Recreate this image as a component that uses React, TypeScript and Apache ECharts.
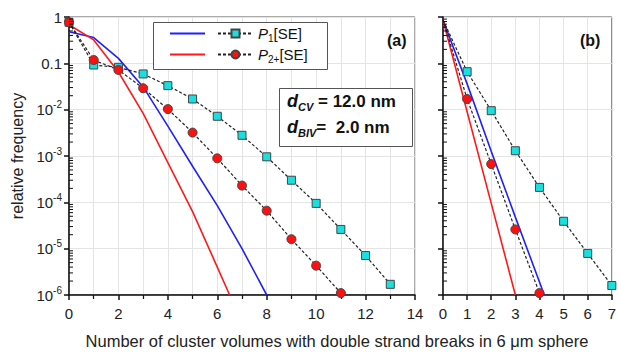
import React, { useEffect, useRef } from "react";
import * as echarts from "echarts";

// ---- data ----
// Panel (a)
const p1SE_a_x = [0, 1, 2, 3, 4, 5, 6, 7, 8, 9, 10, 11, 12, 13];
const p1SE_a_y = [0.77, 0.092, 0.082, 0.059, 0.033, 0.017, 0.0072, 0.0028, 0.00096, 0.0003, 0.000095, 0.000026, 0.0000071, 0.0000017];
const p2SE_a_x = [0, 1, 2, 3, 4, 5, 6, 7, 8, 9, 10, 11];
const p2SE_a_y = [0.77, 0.118, 0.072, 0.029, 0.0103, 0.0032, 0.00089, 0.00023, 0.000066, 0.000016, 0.0000043, 0.0000011];
const p1Line_a_x = [0, 1, 2, 3, 4, 5, 6, 7, 8];
const p1Line_a_y = [0.48, 0.36, 0.128, 0.031, 0.0044, 0.0006, 0.000085, 0.00001, 0.000001];
const p2Line_a_x = [0, 1, 2, 3, 4, 5, 6, 6.5];
const p2Line_a_y = [0.68, 0.32, 0.065, 0.0083, 0.00072, 0.000063, 0.000004, 0.000001];
// Panel (b)
const p1SE_b_x = [0, 1, 2, 3, 4, 5, 6, 7];
const p1SE_b_y = [0.86, 0.066, 0.0095, 0.0013, 0.00021, 0.000039, 0.0000079, 0.0000016];
const p2SE_b_x = [0, 1, 2, 3, 4];
const p2SE_b_y = [0.86, 0.017, 0.00067, 0.000026, 0.0000011];
const p1Line_b_x = [0, 1, 2, 3, 4, 4.2];
const p1Line_b_y = [0.86, 0.036, 0.00126, 0.000048, 0.0000019, 0.000001];
const p2Line_b_x = [0, 1, 2, 3];
const p2Line_b_y = [0.86, 0.009, 0.000095, 0.000001];

const xTicksA = { min: 0, max: 14, interval: 2 };
const xTicksB = { min: 0, max: 7, interval: 1 };
const yRange = { min: 1e-6, max: 1 };

const xTitle = "Number of cluster volumes with double strand breaks in 6 \u03bcm sphere";
const yTitle = "relative frequency";

const FONT = "Liberation Sans, Arial, Helvetica, sans-serif";

function zip(xs: number[], ys: number[]) {
  return xs.map((x, i) => [x, ys[i]]);
}

// minor log tick positions (2..9 × 10^k)
const minorY: number[] = [];
for (let k = -6; k < 0; k++) for (let m = 2; m <= 9; m++) minorY.push(m * Math.pow(10, k));

const BLUE = "#1f1fff";
const RED = "#ff1a1a";

export default function App() {
  const ref = useRef<HTMLDivElement>(null);
  useEffect(() => {
    if (!ref.current) return;
    const chart = echarts.init(ref.current, null, { renderer: "svg" });
    const gridA = { left: 69, top: 17, width: 346, height: 278 };
    const gridB = { left: 443, top: 17, width: 172, height: 278 };

    const yLabelFmt = (v: number) => {
      if (v >= 0.99) return "{b|1}";
      if (Math.abs(v - 0.1) < 1e-6) return "{b|0.1}";
      const e = Math.round(Math.log10(v));
      return `{b|10}{sup|${e}}`;
    };
    const richY = {
      b: { fontSize: 15, fontFamily: FONT, color: "#222", lineHeight: 20, verticalAlign: "middle" },
      sup: { fontSize: 10, fontFamily: FONT, color: "#222", lineHeight: 10, verticalAlign: "top" },
    };

    const xAxisBase = (r: any, gi: number, minor: boolean) => ({
      type: "value",
      gridIndex: gi,
      min: r.min,
      max: r.max,
      interval: r.interval,
      axisLine: { show: true, onZero: false, lineStyle: { color: "#111", width: 1.5 } },
      axisTick: { show: true, length: 5, lineStyle: { color: "#111", width: 1.5 } },
      minorTick: { show: minor, splitNumber: 2, length: 4, lineStyle: { color: "#111", width: 1.2 } },
      splitLine: { show: true, lineStyle: { color: "#e4e4e4", width: 1 } },
      minorSplitLine: { show: minor, lineStyle: { color: "#e4e4e4", width: 1 } },
      axisLabel: { fontSize: 15, fontFamily: FONT, color: "#222", margin: 11 },
    });
    const yAxisBase = (gi: number, labels: boolean) => ({
      type: "log",
      logBase: 10,
      gridIndex: gi,
      min: yRange.min,
      max: yRange.max,
      splitNumber: 6,
      axisLine: { show: true, onZero: false, lineStyle: { color: "#111", width: 1.5 } },
      axisTick: { show: true, length: 5, lineStyle: { color: "#111", width: 1.5 } },
      splitLine: { show: true, lineStyle: { color: "#e4e4e4", width: 1 } },
      axisLabel: {
        show: labels,
        formatter: yLabelFmt,
        rich: richY,
        margin: 7,
      },
      name: labels ? yTitle : "",
      nameLocation: "middle",
      nameGap: 43,
      nameTextStyle: { fontSize: 16, fontFamily: FONT, color: "#222" },
    });

    const dashed = { color: "#222", width: 1.2, type: [3, 2] as any };
    const cyanItem = { color: "#19e0e0", borderColor: "#444", borderWidth: 1 };
    const redItem = { color: "#ff1010", borderColor: "#444", borderWidth: 1 };

    const firstNoSymbol = (pts: number[][]) =>
      pts.map((p, i) => (i === 0 ? { value: p, symbol: "none" } : { value: p }));

    const minorTickSeries = (gi: number) => ({
      type: "custom",
      xAxisIndex: gi,
      yAxisIndex: gi,
      silent: true,
      clip: false,
      z: 10,
      data: minorY.map((v) => [0, v]),
      encode: { x: 0, y: 1 },
      renderItem: (params: any, api: any) => {
        const p = api.coord([0, api.value(1)]);
        return {
          type: "line",
          shape: { x1: p[0], y1: p[1], x2: p[0] + 4, y2: p[1] },
          style: { stroke: "#111", lineWidth: 1 },
        };
      },
    });

    const legendText = (name: string) => {
      if (name === "P1SE") return "{i|P}{s|1}{n|[SE]}";
      if (name === "P2SE") return "{i|P}{s|2+}{n|[SE]}";
      return "";
    };
    const legendRich = {
      i: { fontSize: 15, fontFamily: FONT, fontStyle: "italic", color: "#111", lineHeight: 20, verticalAlign: "middle" },
      s: { fontSize: 10, fontFamily: FONT, color: "#111", lineHeight: 10, verticalAlign: "bottom" },
      n: { fontSize: 15, fontFamily: FONT, color: "#111", lineHeight: 20, verticalAlign: "middle" },
    };
    const lineIcon = "path://M0,0H35V1.8H0Z";
    const legendBase = {
      orient: "horizontal",
      padding: 0,
      itemWidth: 35,
      itemHeight: 10,
      itemGap: 12,
      selectedMode: false,
      formatter: legendText,
      textStyle: { rich: legendRich },
    };

    const textRich = {
      d: { fontSize: 18, fontWeight: "bold", fontStyle: "italic", fontFamily: FONT, fill: "#111", lineHeight: 22, verticalAlign: "middle" },
      s: { fontSize: 11, fontWeight: "bold", fontStyle: "italic", fontFamily: FONT, fill: "#111", lineHeight: 10, verticalAlign: "bottom" },
      n: { fontSize: 17, fontWeight: "bold", fontFamily: FONT, fill: "#111", lineHeight: 22, verticalAlign: "middle" },
    };

    const option: any = {
      animation: false,
      backgroundColor: "#fff",
      grid: [
        { ...gridA, show: true, borderColor: "#555", borderWidth: 1, backgroundColor: "transparent" },
        { ...gridB, show: true, borderColor: "#555", borderWidth: 1, backgroundColor: "transparent" },
      ],
      xAxis: [xAxisBase(xTicksA, 0, true), xAxisBase(xTicksB, 1, false)],
      yAxis: [yAxisBase(0, true), yAxisBase(1, false)],
      legend: [
        { ...legendBase, left: 170, top: 26, data: [{ name: "P1line", icon: lineIcon }, "P1SE"] },
        { ...legendBase, left: 170, top: 47, data: [{ name: "P2line", icon: lineIcon }, "P2SE"] },
      ],
      series: [
        minorTickSeries(0),
        minorTickSeries(1),
        // panel a
        { name: "P1line", type: "line", xAxisIndex: 0, yAxisIndex: 0, data: zip(p1Line_a_x, p1Line_a_y), symbol: "none", lineStyle: { color: BLUE, width: 1.6 }, itemStyle: { color: BLUE }, z: 3 },
        { name: "P2line", type: "line", xAxisIndex: 0, yAxisIndex: 0, data: zip(p2Line_a_x, p2Line_a_y), symbol: "none", lineStyle: { color: RED, width: 1.6 }, itemStyle: { color: RED }, z: 3 },
        { name: "P1SE", type: "line", xAxisIndex: 0, yAxisIndex: 0, data: zip(p1SE_a_x, p1SE_a_y), symbol: "rect", symbolSize: 8, showAllSymbol: true, lineStyle: dashed, itemStyle: cyanItem, z: 4 },
        { name: "P2SE", type: "line", xAxisIndex: 0, yAxisIndex: 0, data: zip(p2SE_a_x, p2SE_a_y), symbol: "circle", symbolSize: 9, showAllSymbol: true, lineStyle: dashed, itemStyle: redItem, z: 5 },
        // panel b
        { name: "P1line", type: "line", xAxisIndex: 1, yAxisIndex: 1, data: zip(p1Line_b_x, p1Line_b_y), symbol: "none", lineStyle: { color: BLUE, width: 1.6 }, itemStyle: { color: BLUE }, z: 3 },
        { name: "P2line", type: "line", xAxisIndex: 1, yAxisIndex: 1, data: zip(p2Line_b_x, p2Line_b_y), symbol: "none", lineStyle: { color: RED, width: 1.6 }, itemStyle: { color: RED }, z: 3 },
        { name: "P1SE", type: "line", xAxisIndex: 1, yAxisIndex: 1, data: firstNoSymbol(zip(p1SE_b_x, p1SE_b_y)), symbol: "rect", symbolSize: 8, showAllSymbol: true, lineStyle: dashed, itemStyle: cyanItem, z: 4 },
        { name: "P2SE", type: "line", xAxisIndex: 1, yAxisIndex: 1, data: firstNoSymbol(zip(p2SE_b_x, p2SE_b_y)), symbol: "circle", symbolSize: 9, showAllSymbol: true, lineStyle: dashed, itemStyle: redItem, z: 5 },
      ],
      graphic: [
        { type: "rect", left: 153, top: 22, shape: { width: 174, height: 47 }, style: { fill: "#fff", stroke: "#555", lineWidth: 1 }, z: 1 },
        { type: "rect", left: 279, top: 88, shape: { width: 133, height: 58 }, style: { fill: "#fff", stroke: "#555", lineWidth: 1 }, z: 1 },
        { type: "text", left: 287, top: 92, z: 2, style: { text: "{d|d}{s|CV}{n| = 12.0 nm}", rich: textRich } },
        { type: "text", left: 287, top: 118, z: 2, style: { text: "{d|d}{s|BIV}{n|=  2.0 nm}", rich: textRich } },
        { type: "text", left: 387, top: 32, z: 2, style: { text: "(a)", fontSize: 16, fontWeight: "bold", fontFamily: FONT, fill: "#111" } },
        { type: "text", left: 580, top: 32, z: 2, style: { text: "(b)", fontSize: 16, fontWeight: "bold", fontFamily: FONT, fill: "#111" } },
        { type: "text", x: 337, y: 341, z: 2, style: { text: xTitle, fontSize: 16.5, fontFamily: FONT, fill: "#222", textAlign: "center", textVerticalAlign: "middle" } },
      ],
    };
    chart.setOption(option);
    return () => chart.dispose();
  }, []);
  return <div ref={ref} style={{ position: "absolute", left: 0, top: 0, width: 619, height: 356 }} />;
}
